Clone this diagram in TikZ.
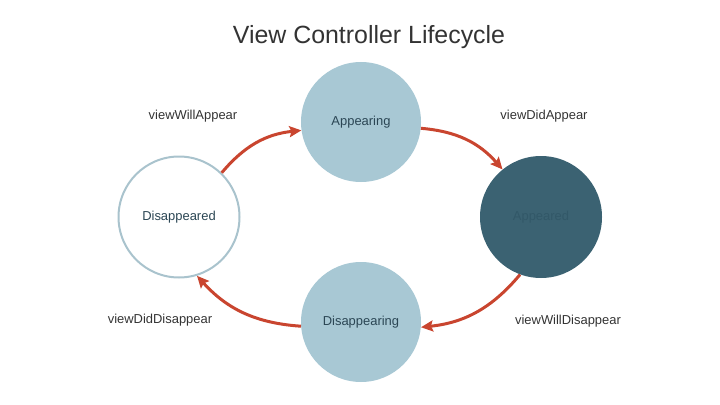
\documentclass[tikz,border=0pt]{standalone}
\usepackage{fontspec}
\setmainfont{Liberation Sans}
\usetikzlibrary{arrows.meta}
\definecolor{lightfill}{HTML}{A8C8D4}
\definecolor{darkfill}{HTML}{3B6272}
\definecolor{ringcol}{HTML}{A9C3CD}
\definecolor{arrowcol}{HTML}{C9452F}
\definecolor{labelcol}{HTML}{333333}
\definecolor{nodetext}{HTML}{2B4654}
\definecolor{darktext}{HTML}{325868}
\tikzset{
  state/.style={circle, minimum size=120bp, inner sep=0pt, font=\fontsize{13}{15}\selectfont, text=nodetext},
  lightstate/.style={state, fill=lightfill},
  darkstate/.style={state, fill=darkfill, text=darktext},
  ringstate/.style={state, fill=white, draw=ringcol, line width=2bp, minimum size=121bp},
  trans/.style={draw=arrowcol, line width=3bp, -{Stealth[length=12bp,width=11bp,inset=2bp]}, bend left=22},
  evlabel/.style={font=\fontsize{13}{15}\selectfont, text=labelcol, inner sep=0pt},
}
\begin{document}
\begin{tikzpicture}[x=1bp,y=1bp]
\useasboundingbox (0,0) rectangle (720,404);
\node[font=\fontsize{25}{30}\selectfont, text=labelcol] (title) at (369,367) {View Controller Lifecycle};
\node[lightstate] (app) at (361,282) {Appearing};
\node[darkstate, minimum size=122bp] (apd) at (541,187) {Appeared};
\node[ringstate] (dsd) at (179,187) {Disappeared};
\node[lightstate] (dsg) at (361,82) {Disappearing};
\draw[trans] (dsd.46) to (app.188);
\draw[trans] (app.354) to (apd.129);
\draw[trans] (apd.250) to (dsg.355);
\draw[trans] (dsg.184) to (dsd.287);
\node[evlabel] (l1) at (193,288) {viewWillAppear};
\node[evlabel] (l2) at (544,288) {viewDidAppear};
\node[evlabel] (l3) at (160,84) {viewDidDisappear};
\node[evlabel] (l4) at (568,83) {viewWillDisappear};
\end{tikzpicture}
\end{document}
